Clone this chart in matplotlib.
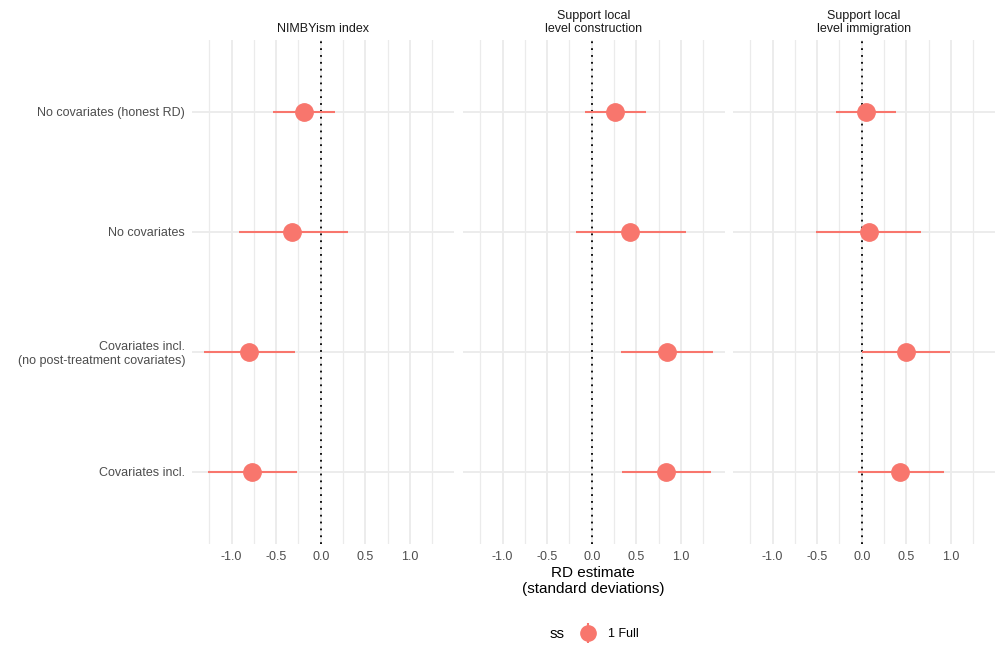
import matplotlib.pyplot as plt
from matplotlib.lines import Line2D
from matplotlib.legend_handler import HandlerTuple
from matplotlib.ticker import MultipleLocator

plt.rcParams['font.family'] = ['Liberation Sans', 'DejaVu Sans']

# rows from top to bottom
specs = ["No covariates (honest RD)", "No covariates",
         "Covariates incl.\n(no post-treatment covariates)", "Covariates incl."]
outcomes = ["NIMBYism index", "Support local\nlevel construction", "Support local\nlevel immigration"]

est_nimby = [-0.19, -0.32, -0.80, -0.77]
lo_nimby = [-0.53, -0.92, -1.31, -1.26]
hi_nimby = [0.16, 0.30, -0.29, -0.27]

est_constr = [0.26, 0.43, 0.84, 0.835]
lo_constr = [-0.075, -0.18, 0.33, 0.34]
hi_constr = [0.61, 1.06, 1.36, 1.34]

est_immig = [0.045, 0.08, 0.50, 0.43]
lo_immig = [-0.29, -0.51, 0.0, -0.04]
hi_immig = [0.38, 0.66, 0.99, 0.92]

panels = [(est_nimby, lo_nimby, hi_nimby),
          (est_constr, lo_constr, hi_constr),
          (est_immig, lo_immig, hi_immig)]

col = "#F8766D"
txt = "#4D4D4D"
grid = "#EBEBEB"

allvals = lo_nimby + hi_nimby + lo_constr + hi_constr + lo_immig + hi_immig
vmin, vmax = min(allvals), max(allvals)
pad = 0.05 * (vmax - vmin)
xlim = (vmin - pad, vmax + pad)

fig = plt.figure(figsize=(10, 6.57), dpi=100)
lefts = [0.192, 0.463, 0.733]
width = 0.262
bottom = 1 - 544 / 657
height = (544 - 40) / 657

ypos = list(range(len(specs), 0, -1))

for i, (est, lo, hi) in enumerate(panels):
    ax = fig.add_axes([lefts[i], bottom, width, height])
    ax.set_xlim(xlim)
    ax.set_ylim(0.4, len(specs) + 0.6)
    ax.xaxis.set_minor_locator(MultipleLocator(0.25))
    ax.set_xticks([-1.0, -0.5, 0.0, 0.5, 1.0])
    ax.set_xticklabels(["-1.0", "-0.5", "0.0", "0.5", "1.0"])
    ax.grid(which="major", axis="both", color=grid, lw=1.3)
    ax.grid(which="minor", axis="x", color=grid, lw=0.9)
    ax.set_axisbelow(True)
    for s in ax.spines.values():
        s.set_visible(False)
    ax.tick_params(which="both", length=0, labelsize=9, labelcolor=txt, pad=5)
    ax.set_yticks(ypos)
    if i == 0:
        ax.set_yticklabels(specs, multialignment="right")
    else:
        ax.set_yticklabels([])
    ax.axvline(0, color="black", ls=(0, (1, 2.8)), lw=1.3, zorder=2)
    ax.hlines(ypos, lo, hi, color=col, lw=1.5, zorder=3)
    ax.plot(est, ypos, "o", color=col, ms=12.5, zorder=4)
    ax.set_title(outcomes[i], fontsize=9, color="#1A1A1A", pad=6, linespacing=1.1)

fig.text(0.593, 1 - 581 / 657, "RD estimate\n(standard deviations)", ha="center", va="center",
         fontsize=11, color="black", linespacing=1.1)

fig.text(0.557, 1 - 634 / 657, "ss", ha="center", va="center", fontsize=11)
h = (Line2D([], [], color=col, marker="|", ls="none", ms=15, mew=1.5),
     Line2D([], [], color=col, marker="o", ls="none", ms=11))
fig.legend([h], ["1 Full"], handler_map={tuple: HandlerTuple(ndivide=1)},
           loc="center left", bbox_to_anchor=(0.567, 1 - 634 / 657), frameon=False,
           fontsize=9, handlelength=1.5, handletextpad=0.9)

fig.savefig("out.png", dpi=100)
